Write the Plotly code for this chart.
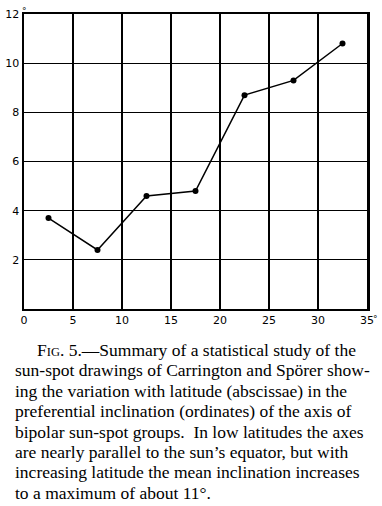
import plotly.graph_objects as go

latitude = [2.5, 7.5, 12.5, 17.5, 22.5, 27.5, 32.5]
inclination = [3.7, 2.4, 4.6, 4.8, 8.7, 9.3, 10.8]
x_ticks = [0, 5, 10, 15, 20, 25, 30, 35]
y_ticks = [2, 4, 6, 8, 10, 12]

caption_lines = [
    "F<span style='font-size:12.5px'>IG</span>. 5.—Summary of a statistical study of the",
    "sun-spot drawings of Carrington and Spörer show-",
    "ing the variation with latitude (abscissae) in the",
    "preferential inclination (ordinates) of the axis of",
    "bipolar sun-spot groups.  In low latitudes the axes",
    "are nearly parallel to the sun’s equator, but with",
    "increasing latitude the mean inclination increases",
    "to a maximum of about 11°.",
]

W, H = 382, 506
L, R, T, B = 24, 15, 14, 197
PW, PH = W - L - R, H - T - B


def px_to_paper(xp, yp):
    return (xp - L) / PW, (H - B - yp) / PH


fig = go.Figure()
fig.add_trace(go.Scatter(
    x=latitude, y=inclination, mode="lines+markers",
    line=dict(color="black", width=1.5),
    marker=dict(color="black", size=6),
    hoverinfo="skip", cliponaxis=False,
))

fig.update_xaxes(
    range=[0, 35], tickvals=x_ticks, ticktext=[str(v) for v in x_ticks],
    showgrid=True, gridcolor="black", gridwidth=1.2,
    showline=True, linecolor="black", linewidth=1.8, mirror=True,
    ticks="", zeroline=False, automargin=False,
    tickfont=dict(family="DejaVu Sans", size=11, color="black"),
)
fig.update_yaxes(
    range=[0, 12], tickvals=y_ticks, ticktext=[str(v) for v in y_ticks],
    showgrid=True, gridcolor="black", gridwidth=1.2,
    showline=True, linecolor="black", linewidth=2.5, mirror=True,
    ticks="", zeroline=False, automargin=False,
    tickfont=dict(family="DejaVu Sans", size=11, color="black"),
)

annotations = [
    dict(x=0, y=12, xref="x", yref="y", text="°", showarrow=False,
         xanchor="left", yanchor="bottom", xshift=-4, yshift=-4,
         font=dict(family="DejaVu Sans", size=9, color="black")),
    dict(x=35, y=0, xref="x", yref="y", text="°", showarrow=False,
         xanchor="left", yanchor="top", xshift=4, yshift=-3,
         font=dict(family="DejaVu Sans", size=9, color="black")),
]
line_top = 338
line_h = 20.4
for i, txt in enumerate(caption_lines):
    xp, yp = px_to_paper(35 if i == 0 else 13, line_top + i * line_h)
    annotations.append(dict(
        x=xp, y=yp, xref="paper", yref="paper", xanchor="left", yanchor="top",
        text=txt, showarrow=False, align="left",
        font=dict(family="Liberation Serif", size=17.5, color="black"),
    ))

fig.update_layout(
    width=W, height=H,
    margin=dict(l=L, r=R, t=T, b=B, pad=0, autoexpand=False),
    paper_bgcolor="white", plot_bgcolor="white",
    showlegend=False,
    annotations=annotations,
)

fig.write_html(
    "out.html",
    config={"displayModeBar": False, "staticPlot": True},
    post_script="document.body.style.margin='0px';document.body.style.overflow='hidden';",
)
